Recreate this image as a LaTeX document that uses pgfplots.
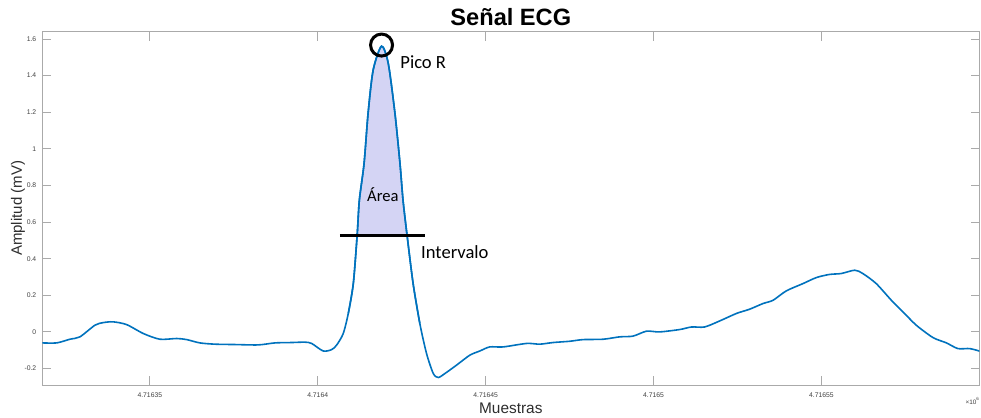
\documentclass[border=0pt]{standalone}
\usepackage{fontspec}
\setmainfont{Liberation Sans}
\newfontfamily\annotfont{Carlito}
\usepackage{pgfplots}
\pgfplotsset{compat=1.18}
\usepgfplotslibrary{fillbetween}
\usetikzlibrary{calc}

\definecolor{ecgblue}{rgb}{0,0.447,0.741}
\definecolor{areafill}{RGB}{212,212,244}
\definecolor{axgray}{RGB}{170,170,170}
\definecolor{lblgray}{RGB}{64,64,64}

\begin{document}
\begin{tikzpicture}
\begin{axis}[
  name=main, at={(0,0)}, anchor=south west,
  scale only axis, width=468.5pt, height=176.65pt,
  xmin=4716318, xmax=4716597,
  ymin=-0.29, ymax=1.64,
  scaled ticks=false,
  axis line style={axgray, line width=0.5pt},
  tick style={axgray, line width=0.5pt},
  major tick length=4.5pt,
  tick align=inside, tick pos=both,
  xtick={4716350,4716400,4716450,4716500,4716550},
  xticklabels={4.71635,4.7164,4.71645,4.7165,4.71655},
  ytick={-0.2,0,0.2,0.4,0.6,0.8,1,1.2,1.4,1.6},
  yticklabels={-0.2,0,0.2,0.4,0.6,0.8,1,1.2,1.4,1.6},
  ticklabel style={font=\fontsize{3.4}{4}\selectfont, text=lblgray},
  xticklabel style={yshift=-0.3pt},
  yticklabel style={xshift=0.5pt},
  /pgf/number format/assume math mode=true,
  xlabel={Muestras},
  xlabel style={font=\fontsize{7.7}{9}\selectfont, text=lblgray!70!black, at={(axis description cs:0.5,-0.065)}, anchor=center},
  ylabel={Amplitud (mV)},
  ylabel style={font=\fontsize{7.5}{9}\selectfont, text=lblgray!70!black, at={(axis description cs:-0.026,0.5)}, anchor=center},
  clip=true,
]
% level of the interval line
\addplot[draw=none, name path=lvl, forget plot] coordinates {(4716318,0.528) (4716597,0.528)};

% ECG trace
\addplot[ecgblue, line width=0.8pt, smooth, tension=0.45, name path=ecg] coordinates {
(4716318.0,-0.060) (4716322.3,-0.060) (4716326.2,-0.040) (4716329.2,-0.027)
(4716333.7,0.037) (4716336.2,0.051) (4716339.1,0.055) (4716343.1,0.040)
(4716348.1,-0.009) (4716353.0,-0.040) (4716358.0,-0.036) (4716361.0,-0.042)
(4716364.9,-0.060) (4716369.4,-0.067) (4716375.4,-0.069) (4716382.3,-0.071)
(4716387.3,-0.060) (4716392.2,-0.058) (4716396.2,-0.056) (4716398.2,-0.063)
(4716401.6,-0.104) (4716404.1,-0.097) (4716405.6,-0.073) (4716407.6,-0.009)
(4716409.1,0.101) (4716410.6,0.264) (4716411.75,0.528) (4716412.4,0.720)
(4716413.8,0.920) (4716415.0,1.193) (4716416.5,1.430) (4716419.0,1.561)
(4716421.0,1.467) (4716423.0,1.193) (4716424.5,0.920) (4716425.4,0.720)
(4716426.6,0.528) (4716428.4,0.264) (4716430.4,0.046) (4716432.4,-0.118)
(4716434.4,-0.227) (4716435.9,-0.249) (4716437.9,-0.227)
(4716441.3,-0.182) (4716445.3,-0.127) (4716448.3,-0.104) (4716451.2,-0.082)
(4716455.2,-0.082) (4716462.2,-0.063) (4716466.1,-0.067) (4716470.1,-0.058)
(4716475.1,-0.051) (4716479.0,-0.042) (4716485.0,-0.040) (4716489.9,-0.027)
(4716493.9,-0.023) (4716497.9,0.004) (4716501.8,0.000) (4716507.8,0.013)
(4716511.3,0.027) (4716515.2,0.027) (4716519.7,0.060) (4716524.7,0.101)
(4716528.6,0.124) (4716532.6,0.155) (4716535.6,0.173) (4716539.5,0.224)
(4716544.5,0.264) (4716548.5,0.297) (4716552.4,0.314) (4716555.9,0.319)
(4716559.9,0.337) (4716562.3,0.319) (4716566.3,0.264) (4716570.8,0.173)
(4716574.3,0.109) (4716578.2,0.037) (4716583.2,-0.031) (4716587.2,-0.060)
(4716590.6,-0.091) (4716594.1,-0.091) (4716597.1,-0.105)
};

% area of the R wave above the interval level
\addplot[areafill, forget plot] fill between[of=ecg and lvl, soft clip={domain=4716411.75:4716426.6}];
\addplot[ecgblue, line width=0.8pt, smooth, tension=0.45, forget plot] coordinates {
(4716409.1,0.101) (4716410.6,0.264) (4716411.75,0.528) (4716412.4,0.720)
(4716413.8,0.920) (4716415.0,1.193) (4716416.5,1.430) (4716419.0,1.561)
(4716421.0,1.467) (4716423.0,1.193) (4716424.5,0.920) (4716425.4,0.720)
(4716426.6,0.528) (4716428.4,0.264) (4716430.4,0.046)
};

% interval line
\addplot[black, line width=1.5pt] coordinates {(4716406.6,0.528) (4716432.0,0.528)};

% R peak marker
\addplot[only marks, mark=o, mark size=5.5pt, mark options={black, line width=1.5pt}] coordinates {(4716419.0,1.567)};

\node[anchor=west, inner sep=0pt, font=\annotfont\fontsize{9.3}{11}\selectfont] at (axis cs:4716424.5,1.474) {Pico R};
\node[anchor=center, inner sep=0pt, font=\annotfont\fontsize{8.3}{10}\selectfont] at (axis cs:4716419.4,0.752) {Área};
\node[anchor=west, inner sep=0pt, font=\annotfont\fontsize{9.3}{11}\selectfont] at (axis cs:4716430.7,0.436) {Intervalo};
\end{axis}
% title and axis multiplier
\node[anchor=base, inner sep=0pt, font=\fontsize{11.8}{14}\selectfont\bfseries] at ($(main.north west)!0.5!(main.north east)+(0,3.2pt)$) {Señal ECG};
\node[anchor=base east, inner sep=0pt, font=\fontsize{3.2}{4}\selectfont, text=lblgray] at ($(main.south east)+(0.5pt,-9.8pt)$) {×10\textsuperscript{6}};
\pgfresetboundingbox
\path (-21.15pt,-16.5pt) rectangle (469.35pt,192.5pt);
\end{tikzpicture}
\end{document}
